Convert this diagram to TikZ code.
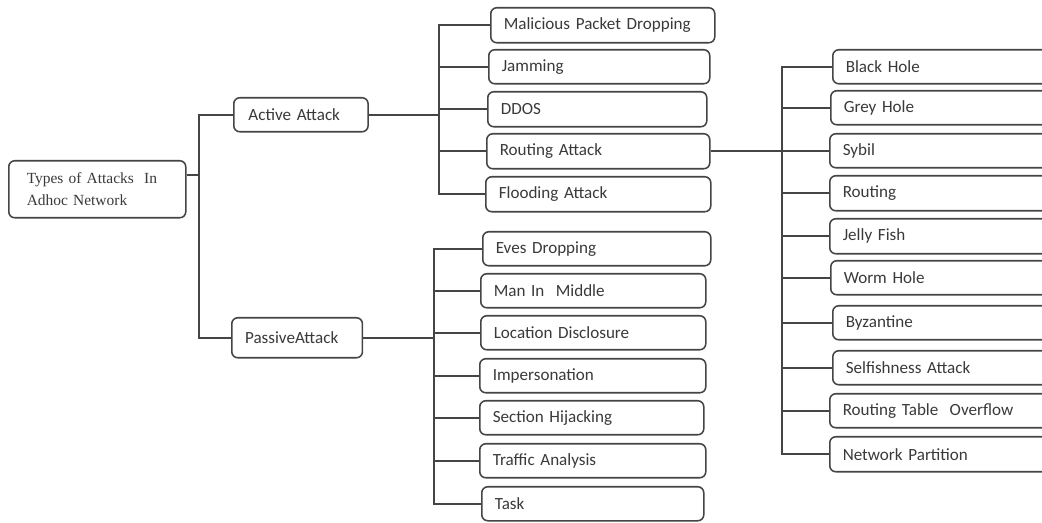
\documentclass[tikz,border=0pt]{standalone}
\usepackage{fontspec}
\setmainfont{Carlito}
\newfontfamily\rootfont{Liberation Serif}
\definecolor{linec}{HTML}{454545}
\definecolor{textc}{HTML}{3A3A3A}
\begin{document}
\begin{tikzpicture}[x=0.75pt,y=-0.75pt,
  ln/.style={draw=linec, line width=1.15pt},
  bx/.style 2 args={draw=linec, line width=1.15pt, rounded corners=4.5pt, anchor=north west,
    minimum width=#1*0.75pt, minimum height=#2*0.75pt, text width=(#1-26)*0.75pt,
    align=left, inner xsep=9.75pt, inner ysep=0pt,
    font=\fontsize{12.8}{14}\selectfont, text=textc}]
\clip (0,0) rectangle (1042,523);
\fill[white] (0,0) rectangle (1042,523);

% root and level 1
\node[bx={177}{57}, inner xsep=13.5pt, text width=(177-36)*0.75pt,
      font=\rootfont\fontsize{11.6}{16.5}\selectfont] (root) at (8,160) {Types of Attacks\ \ In\\Adhoc Network};
\node[bx={131}{34}, inner xsep=11pt] (active) at (233,97) {Active Attack};
\node[bx={130}{40}, inner xsep=10pt] (passive) at (231,317) {PassiveAttack};

% active children
\node[bx={224}{35}] (m1) at (490,7) {Malicious Packet Dropping};
\node[bx={221}{34}] (m2) at (488,49) {Jamming};
\node[bx={219}{35}] (m3) at (487,91) {DDOS};
\node[bx={223}{35}] (m4) at (486,133) {Routing Attack};
\node[bx={225}{35}] (m5) at (485,176) {Flooding Attack};

% passive children
\node[bx={228}{34}] (p1) at (482,231) {Eves Dropping};
\node[bx={225}{34}] (p2) at (480,273) {Man In\ \ Middle};
\node[bx={225}{34}] (p3) at (480,315) {Location Disclosure};
\node[bx={226}{34}] (p4) at (479,358) {Impersonation};
\node[bx={224}{34}] (p5) at (479,400) {Section Hijacking};
\node[bx={226}{34}] (p6) at (479,443) {Traffic Analysis};
\node[bx={222}{34}] (p7) at (481,486) {Task};

% routing attack children
\node[bx={240}{34}] (r1) at (832,49) {Black Hole};
\node[bx={242}{34}] (r2) at (830,90) {Grey Hole};
\node[bx={243}{34}] (r3) at (829,133) {Sybil};
\node[bx={243}{35}] (r4) at (829,175) {Routing};
\node[bx={243}{35}] (r5) at (829,218) {Jelly Fish};
\node[bx={242}{34}] (r6) at (830,260) {Worm Hole};
\node[bx={240}{34}] (r7) at (832,305) {Byzantine};
\node[bx={240}{34}] (r8) at (832,350) {Selfishness Attack};
\node[bx={243}{34}] (r9) at (829,393) {Routing Table\ \ Overflow};
\node[bx={243}{35}] (r10) at (829,436) {Network Partition};

% trunk coordinates
\coordinate (c0) at (199,175);
\coordinate (c1) at (439,112);
\coordinate (c2) at (434,337);
\coordinate (c3) at (782,150);

% root -> level 1
\draw[ln] (root.east |- c0) -- (c0);
\draw[ln] (active.west) -| (c0) |- (passive.west);

% active -> children
\draw[ln] (active.east) -- (active.east -| c1);
\draw[ln] (m1.west) -| (c1) |- (m5.west);
\foreach \n in {m2,m3,m4} \draw[ln] (\n.west -| c1) -- (\n.west);

% passive -> children
\draw[ln] (passive.east) -- (passive.east -| c2);
\draw[ln] (p1.west) -| (c2) |- (p7.west);
\foreach \n in {p2,p3,p4,p5,p6} \draw[ln] (\n.west -| c2) -- (\n.west);

% routing attack -> children
\draw[ln] (m4.east) -- (m4.east -| c3);
\draw[ln] (r1.west) -| (c3) |- (r10.west);
\foreach \n in {r2,r3,r4,r5,r6,r7,r8,r9} \draw[ln] (\n.west -| c3) -- (\n.west);
\end{tikzpicture}
\end{document}
